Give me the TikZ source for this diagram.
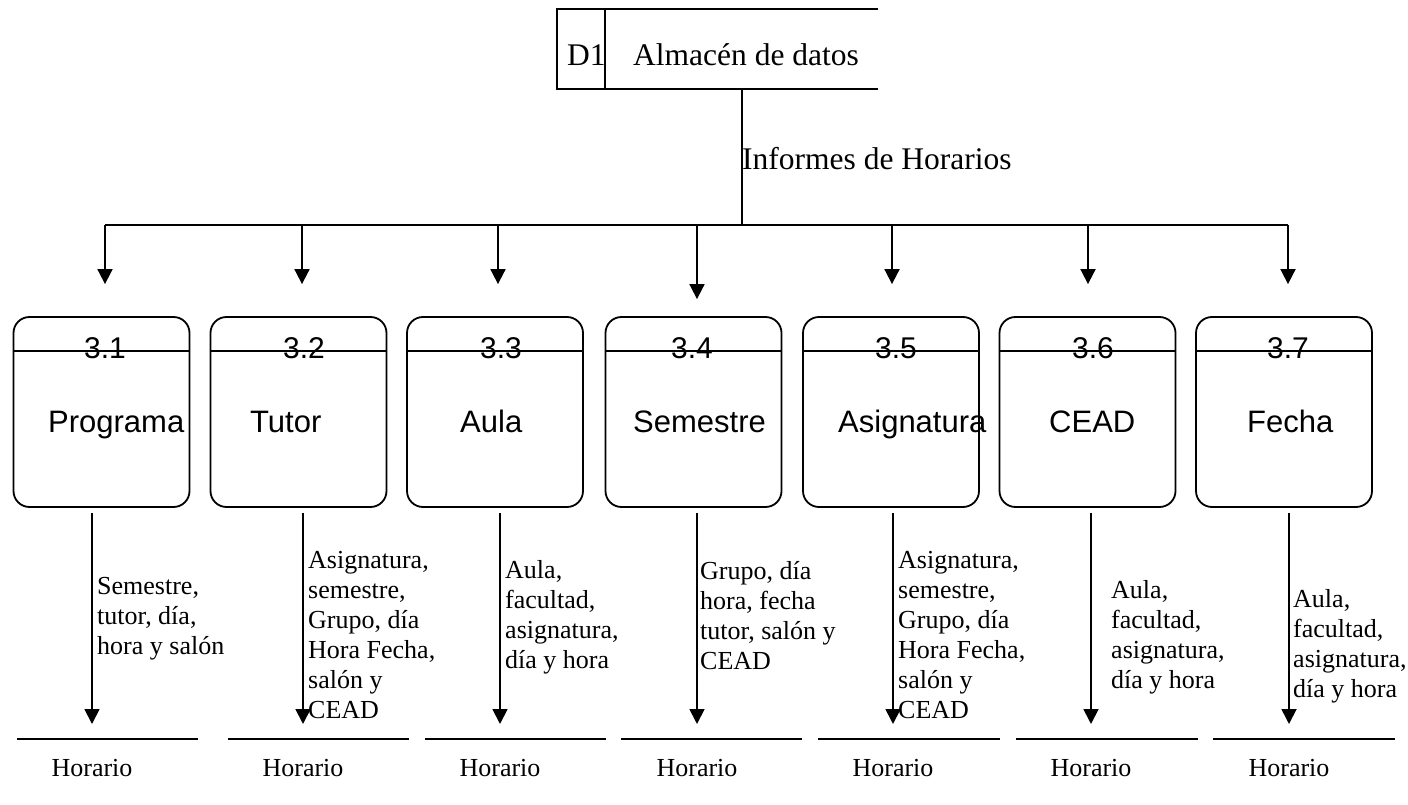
\documentclass[tikz,border=0pt]{standalone}
\usepackage{fontspec}
\setmainfont{Liberation Serif}
\newfontfamily\arialfont{Liberation Sans}
\usetikzlibrary{arrows.meta}

\begin{document}
\begin{tikzpicture}[x=1pt, y=-1pt,
procbox/.style={draw, line width=1.8pt, rounded corners=16pt, minimum width=176pt, minimum height=190pt, inner sep=0pt},
procnum/.style={font=\arialfont\fontsize{30}{30}\selectfont, inner sep=0pt, anchor=base},
procname/.style={font=\arialfont\fontsize{31}{31}\selectfont, inner sep=0pt, anchor=base west},
flowtext/.style={font=\fontsize{26}{30}\selectfont, align=left, inner sep=0pt, anchor=base west},
storetext/.style={font=\fontsize{31.5}{32}\selectfont, inner sep=0pt, anchor=base west},
horario/.style={font=\fontsize{26}{26}\selectfont, inner sep=0pt, anchor=base},
flow/.style={line width=1.8pt, -{Triangle[width=15pt,length=15pt]}}
]
    \useasboundingbox (0,0) rectangle (1408,805);

    % almacen de datos
    \node [minimum width=321pt, minimum height=80pt, inner sep=0pt] (ds) at (717.5,49) {};
    \draw [line width=1.8pt] (ds.north east) -- (ds.north west) -- (ds.south west) -- (ds.south east);
    \draw [line width=1.8pt] ([xshift=48pt]ds.north west) -- ([xshift=48pt]ds.south west);
    \node [storetext] (d1) at (567,66) {D1};
    \node [storetext] (dname) at (633,66) {Almacén de datos};
    \node [storetext] (inf) at (742,170) {Informes de Horarios};

    % procesos
    \node [procbox] (p1) at (101.5,412) {};
    \node [procbox] (p2) at (298.5,412) {};
    \node [procbox] (p3) at (495,412) {};
    \node [procbox] (p4) at (693.5,412) {};
    \node [procbox] (p5) at (891,412) {};
    \node [procbox] (p6) at (1087.5,412) {};
    \node [procbox] (p7) at (1284,412) {};

    \foreach \i in {1,...,7}
        \draw [line width=1.8pt] ([yshift=-35pt]p\i.north west) -- ([yshift=-35pt]p\i.north east);

    \node [procnum] (n1) at (105,358) {3.1};
    \node [procnum] (n2) at (304,358) {3.2};
    \node [procnum] (n3) at (501,358) {3.3};
    \node [procnum] (n4) at (692,358) {3.4};
    \node [procnum] (n5) at (896,358) {3.5};
    \node [procnum] (n6) at (1093,358) {3.6};
    \node [procnum] (n7) at (1288,358) {3.7};

    \node [procname] (t1) at (48,432) {Programa};
    \node [procname] (t2) at (250,432) {Tutor};
    \node [procname] (t3) at (460,432) {Aula};
    \node [procname] (t4) at (633,432) {Semestre};
    \node [procname] (t5) at (838,432) {Asignatura};
    \node [procname] (t6) at (1049,432) {CEAD};
    \node [procname] (t7) at (1247,432) {Fecha};

    % reparto desde el almacen
    \coordinate (bus) at (742,225);
    \coordinate (b1) at (105,225);
    \coordinate (b2) at (302,225);
    \coordinate (b3) at (498,225);
    \coordinate (b4) at (697,225);
    \coordinate (b5) at (892,225);
    \coordinate (b6) at (1088,225);
    \coordinate (b7) at (1288,225);
    \draw [line width=1.8pt] (ds.south -| bus) -- (bus);
    \draw [line width=1.8pt] (b1) -- (b7);
    \draw [flow, shorten >=32pt] (b1) -- (p1.north -| b1);
    \draw [flow, shorten >=32pt] (b2) -- (p2.north -| b2);
    \draw [flow, shorten >=32pt] (b3) -- (p3.north -| b3);
    \draw [flow, shorten >=17pt] (b4) -- (p4.north -| b4);
    \draw [flow, shorten >=32pt] (b5) -- (p5.north -| b5);
    \draw [flow, shorten >=32pt] (b6) -- (p6.north -| b6);
    \draw [flow, shorten >=32pt] (b7) -- (p7.north -| b7);

    % almacenes Horario
    \coordinate (s1) at (92,739);
    \coordinate (s2) at (303,739);
    \coordinate (s3) at (500,739);
    \coordinate (s4) at (697,739);
    \coordinate (s5) at (893,739);
    \coordinate (s6) at (1091,739);
    \coordinate (s7) at (1289,739);
    \draw [line width=1.8pt] (17,739) -- (198,739);
    \draw [line width=1.8pt] (228,739) -- (409,739);
    \draw [line width=1.8pt] (425,739) -- (606,739);
    \draw [line width=1.8pt] (621,739) -- (802,739);
    \draw [line width=1.8pt] (818,739) -- (1000,739);
    \draw [line width=1.8pt] (1016,739) -- (1198,739);
    \draw [line width=1.8pt] (1213,739) -- (1395,739);
    \node [horario] (h1) at (92,776) {Horario};
    \node [horario] (h2) at (303,776) {Horario};
    \node [horario] (h3) at (500,776) {Horario};
    \node [horario] (h4) at (697,776) {Horario};
    \node [horario] (h5) at (893,776) {Horario};
    \node [horario] (h6) at (1091,776) {Horario};
    \node [horario] (h7) at (1289,776) {Horario};

    \draw [flow, shorten <=5pt, shorten >=15pt] (p1.south -| s1) -- (s1);
    \draw [flow, shorten <=5pt, shorten >=15pt] (p2.south -| s2) -- (s2);
    \draw [flow, shorten <=5pt, shorten >=15pt] (p3.south -| s3) -- (s3);
    \draw [flow, shorten <=5pt, shorten >=15pt] (p4.south -| s4) -- (s4);
    \draw [flow, shorten <=5pt, shorten >=15pt] (p5.south -| s5) -- (s5);
    \draw [flow, shorten <=5pt, shorten >=15pt] (p6.south -| s6) -- (s6);
    \draw [flow, shorten <=5pt, shorten >=15pt] (p7.south -| s7) -- (s7);

    % etiquetas de flujo (base = ultima linea)
    \node [flowtext] (f1) at (97,654) {Semestre,\\tutor, día,\\hora y salón};
    \node [flowtext] (f2) at (308,718) {Asignatura,\\semestre,\\Grupo, día\\Hora Fecha,\\salón y\\CEAD};
    \node [flowtext] (f3) at (505,668) {Aula,\\facultad,\\asignatura,\\día y hora};
    \node [flowtext] (f4) at (700,669) {Grupo, día\\hora, fecha\\tutor, salón y\\CEAD};
    \node [flowtext] (f5) at (898,718) {Asignatura,\\semestre,\\Grupo, día\\Hora Fecha,\\salón y\\CEAD};
    \node [flowtext] (f6) at (1111,688) {Aula,\\facultad,\\asignatura,\\día y hora};
    \node [flowtext] (f7) at (1293,697) {Aula,\\facultad,\\asignatura,\\día y hora};

\end{tikzpicture}
\end{document}
